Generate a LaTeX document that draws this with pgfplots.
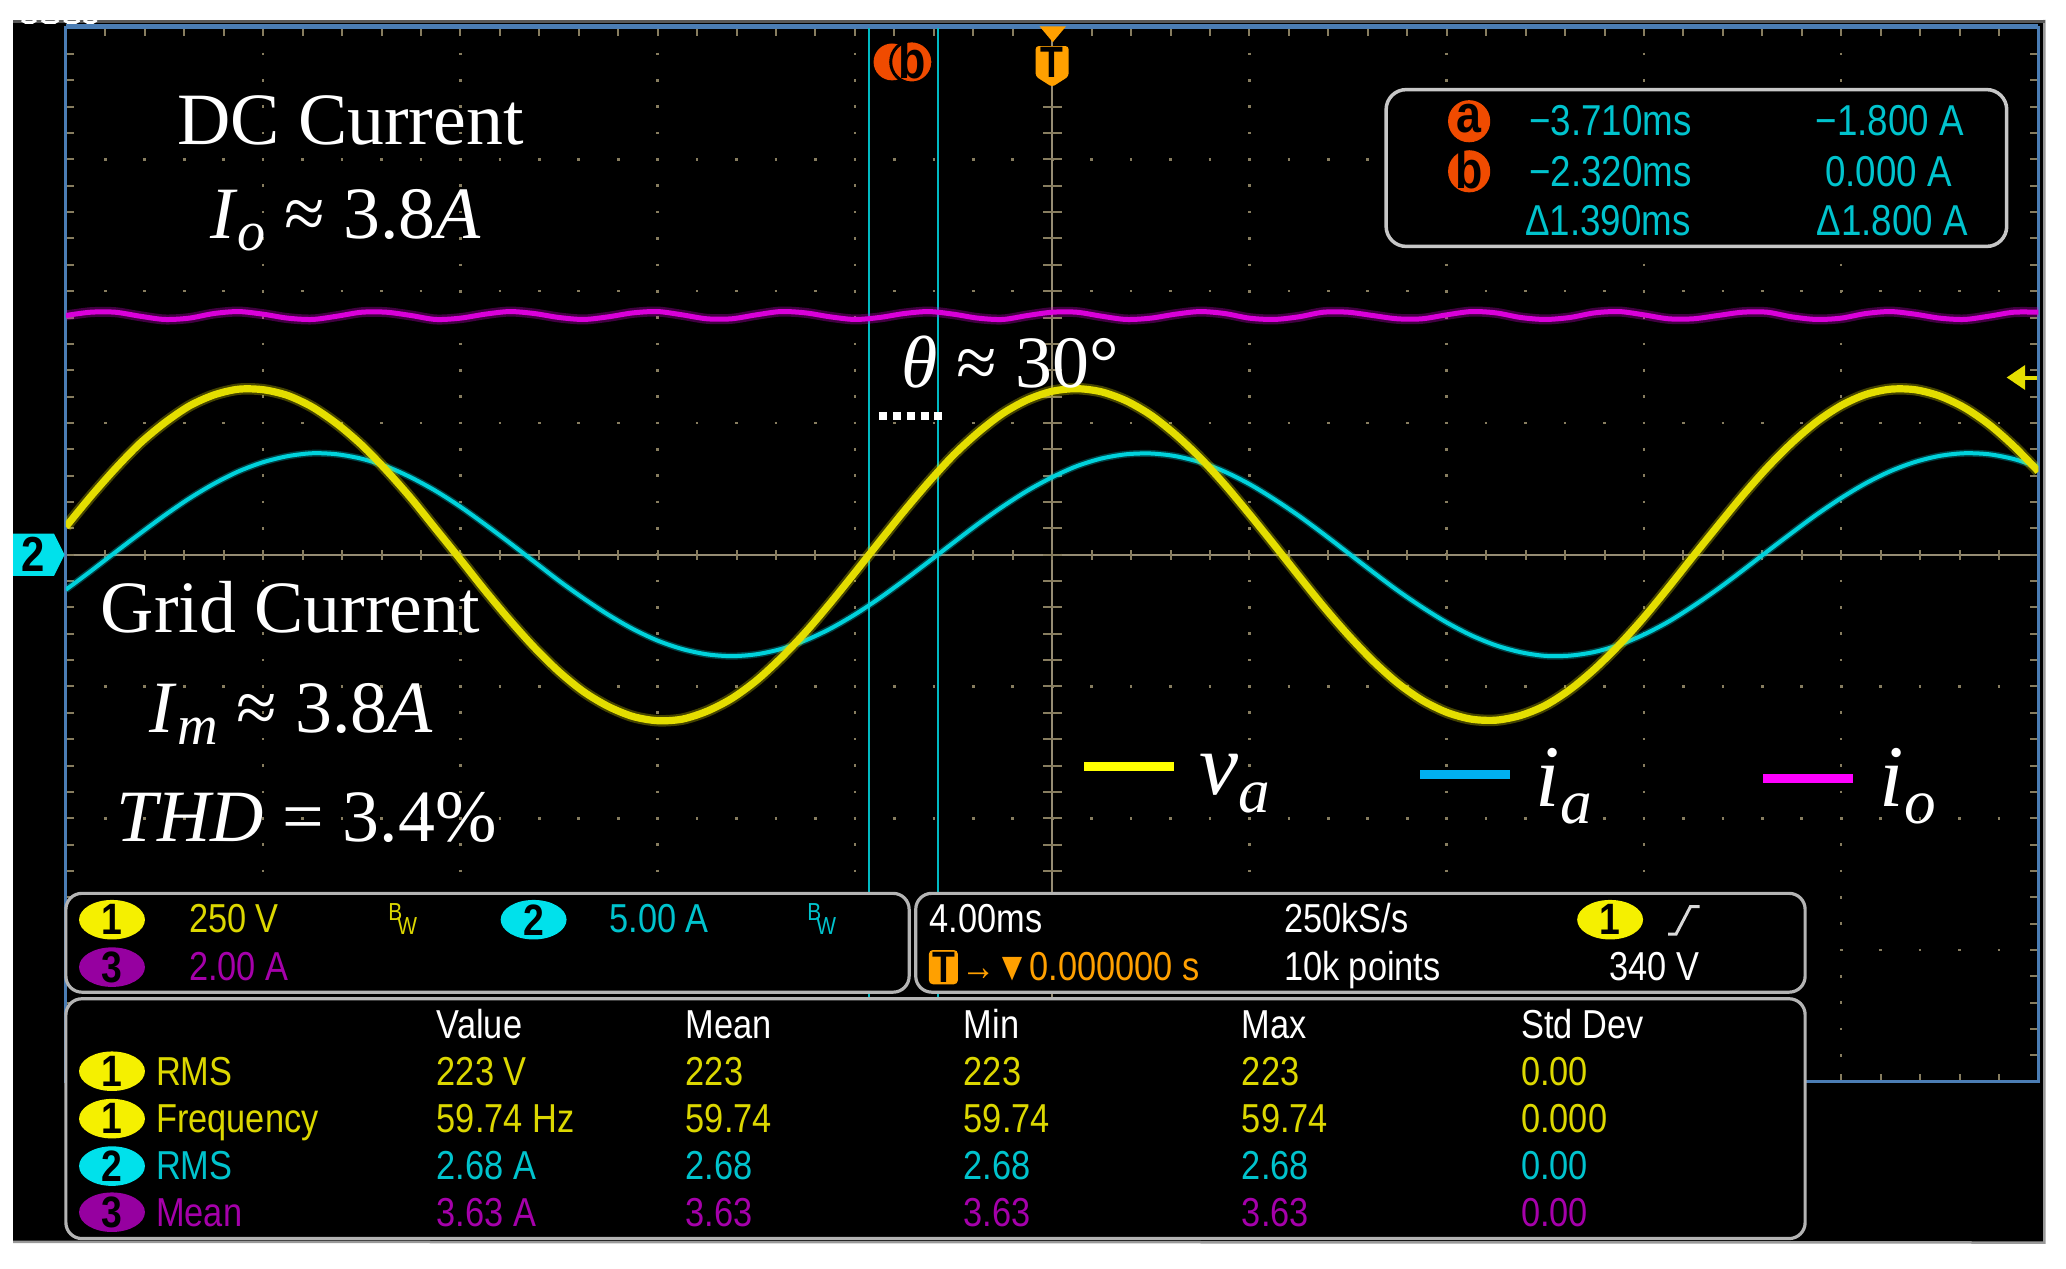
\documentclass[border=0pt]{standalone}
\usepackage{pgfplots}
\pgfplotsset{compat=1.18}
\usepackage{pgfplotstable}
\usepackage{fontspec}
\setmainfont{Liberation Serif}
\newfontfamily\tek[FakeStretch=0.85]{Liberation Sans}

\definecolor{tekY}{RGB}{228,222,0}
\definecolor{tekC}{RGB}{0,210,220}
\definecolor{tekM}{RGB}{218,0,218}
\definecolor{txtY}{RGB}{220,215,0}
\definecolor{txtC}{RGB}{0,195,205}
\definecolor{txtP}{RGB}{165,0,170}
\definecolor{ellY}{RGB}{245,240,0}
\definecolor{ellC}{RGB}{0,225,235}
\definecolor{ellP}{RGB}{150,0,160}
\definecolor{gridc}{RGB}{135,125,95}
\definecolor{centc}{RGB}{150,140,115}
\definecolor{bord}{RGB}{75,125,180}
\definecolor{panelb}{RGB}{180,180,180}
\definecolor{curO}{RGB}{240,75,0}
\definecolor{curC}{RGB}{0,185,195}
\definecolor{trigO}{RGB}{255,160,0}
\definecolor{legY}{RGB}{255,255,0}
\definecolor{legC}{RGB}{0,176,240}
\definecolor{legM}{RGB}{255,0,255}

% t (ms), va (V, ch1), ia (A, ch2), io (A, ch3)
\pgfplotstableread{
t va ia io
-20 53 -1.33 3.63
-19.5 110 -0.63 3.68
-19 163 0.09 3.68
-18.5 211 0.80 3.62
-18 250 1.49 3.57
-17.5 282 2.13 3.59
-17 303 2.69 3.66
-16.5 314 3.16 3.69
-16 313 3.51 3.65
-15.5 302 3.74 3.59
-15 280 3.85 3.57
-14.5 248 3.81 3.62
-14 208 3.64 3.68
-13.5 160 3.35 3.68
-13 107 2.93 3.63
-12.5 49 2.42 3.57
-12 -9 1.82 3.59
-11.5 -68 1.15 3.65
-11 -124 0.45 3.69
-10.5 -176 -0.27 3.66
-10 -222 -0.99 3.60
-9.5 -260 -1.66 3.57
-9 -288 -2.28 3.61
-8.5 -307 -2.82 3.67
-8 -315 -3.26 3.69
-7.5 -312 -3.58 3.64
-7 -297 -3.78 3.58
-6.5 -273 -3.85 3.58
-6 -239 -3.78 3.64
-5.5 -196 -3.58 3.69
-5 -147 -3.25 3.67
-4.5 -92 -2.81 3.61
-4 -34 -2.27 3.57
-3.5 25 -1.65 3.60
-3 83 -0.97 3.66
-2.5 138 -0.26 3.69
-2 189 0.46 3.65
-1.5 232 1.17 3.59
-1 268 1.83 3.57
-0.5 294 2.43 3.63
0 310 2.94 3.68
0.5 315 3.36 3.68
1 309 3.65 3.62
1.5 292 3.81 3.57
2 265 3.84 3.59
2.5 228 3.74 3.65
3 184 3.51 3.69
3.5 133 3.15 3.66
4 77 2.68 3.59
4.5 19 2.11 3.57
5 -40 1.48 3.61
5.5 -98 0.79 3.68
6 -152 0.07 3.68
6.5 -201 -0.65 3.63
7 -243 -1.35 3.58
7.5 -276 -1.99 3.58
8 -299 -2.57 3.64
8.5 -312 -3.06 3.69
9 -314 -3.44 3.67
9.5 -305 -3.70 3.60
10 -286 -3.84 3.57
10.5 -256 -3.83 3.60
11 -217 -3.69 3.67
11.5 -171 -3.42 3.69
12 -119 -3.03 3.64
12.5 -62 -2.54 3.58
13 -3 -1.95 3.58
13.5 55 -1.30 3.63
14 112 -0.60 3.68
14.5 165 0.12 3.68
15 212 0.83 3.61
15.5 252 1.52 3.57
16 283 2.15 3.59
16.5 304 2.71 3.66
17 314 3.17 3.69
17.5 313 3.52 3.65
18 301 3.75 3.59
18.5 279 3.85 3.57
19 247 3.81 3.62
19.5 206 3.63 3.68
20 158 3.33 3.68
}\scopedata

\tikzset{
  tk/.style={anchor=base west, inner sep=0, font=\tek\fontsize{11.5}{12}\selectfont},
  tkr/.style={anchor=base east, inner sep=0, font=\tek\fontsize{12.3}{13}\selectfont, txtC},
  tkl/.style={anchor=base west, inner sep=0, font=\tek\fontsize{12.3}{13}\selectfont, txtC},
  ann/.style={anchor=base west, inner sep=0, white, font=\fontsize{21}{24}\selectfont},
  leg/.style={anchor=base west, inner sep=0, white, font=\fontsize{25}{28}\selectfont},
  chipnum/.style={inner sep=0, black, font=\tek\bfseries\fontsize{12.5}{13}\selectfont}
}
\newcommand\chip[4]{\fill[#3] (#1,#2) ellipse [x radius=25, y radius=15];
  \node[chipnum] at (#1,#2) {#4};}

\pgfplotsset{tekaxis/.style={at={(gridSW)}, anchor=south west, width=197.24mm, height=105.41mm,
  scale only axis, xmin=-20, xmax=20, hide axis, clip=true}}

\begin{document}
\begin{tikzpicture}[x=0.13176mm, y=-0.13176mm]
% background
\fill[white] (0,0) rectangle (1568,963);
\fill[black] (10,15) rectangle (1552,943);
\draw[black!40, line width=0.25mm] (1551.5,15) -- (1551.5,943) -- (10,942.5);
\draw[black!65, line width=0.35mm] (10,16.5) -- (1552,16.5);
\foreach \a/\b in {17/27,32/44,49/60,64/73}
  \draw[white, line width=0.3mm, rounded corners=0.2mm] (\a,15.2) -- (\a+1,17) -- (\b-1,17) -- (\b,15.2);
% graticule: dotted major lines
\foreach \i in {1,2,3,4,6,7,8,9}
  \draw[gridc, line width=0.26mm, dash pattern=on 0.264mm off 2.371mm] ({50+149.7*\i},20) -- ({50+149.7*\i},822);
\foreach \j in {1,2,3,5,6,7}
  \draw[gridc, line width=0.26mm, dash pattern=on 0.264mm off 3.681mm] (49,{21+100*\j}) -- (1548,{21+100*\j});
% centre lines and their ticks
\draw[centc, line width=0.22mm] (798.5,21) -- (798.5,821);
\draw[centc, line width=0.22mm] (50,421) -- (1547,421);
\draw[gridc, line width=1.0mm, dash pattern=on 0.2mm off 3.745mm] (49.25,421) -- (1548,421);
\draw[gridc, line width=1.9mm, dash pattern=on 0.2mm off 2.435mm] (798.5,20.25) -- (798.5,822);
% border ticks
\draw[gridc, line width=0.8mm, dash pattern=on 0.2mm off 3.745mm] (49.25,24) -- (1548,24);
\draw[gridc, line width=0.8mm, dash pattern=on 0.2mm off 3.745mm] (49.25,818) -- (1548,818);
\draw[gridc, line width=0.8mm, dash pattern=on 0.2mm off 2.435mm] (53,20.25) -- (53,822);
\draw[gridc, line width=0.8mm, dash pattern=on 0.2mm off 2.435mm] (1544,20.25) -- (1544,822);
\draw[bord, line width=0.28mm] (50,21) rectangle (1547,821);
\draw[bord, line width=0.5mm] (50,20) -- (1547,20);

\coordinate (gridSW) at (50,821);
% channel 3 (2 A/div) + cursors
\begin{axis}[tekaxis, ymin=-8, ymax=8]
  \draw[curC, line width=0.22mm] (axis cs:-3.71,-8) -- (axis cs:-3.71,8);
  \draw[curC, line width=0.22mm] (axis cs:-2.32,-8) -- (axis cs:-2.32,8);
  \addplot[tekM, line width=1.0mm, opacity=0.3, smooth] table[x=t, y=io] {\scopedata};
  \addplot[tekM, line width=0.5mm, smooth] table[x=t, y=io] {\scopedata};
\end{axis}
% channel 2 (5 A/div)
\begin{axis}[tekaxis, ymin=-20, ymax=20]
  \addplot[tekC, line width=0.7mm, opacity=0.3, smooth] table[x=t, y=ia] {\scopedata};
  \addplot[tekC, line width=0.4mm, smooth] table[x=t, y=ia] {\scopedata};
\end{axis}
% channel 1 (250 V/div)
\begin{axis}[tekaxis, ymin=-1000, ymax=1000]
  \addplot[tekY, line width=1.15mm, opacity=0.3, smooth] table[x=t, y=va] {\scopedata};
  \addplot[tekY, line width=0.72mm, smooth] table[x=t, y=va] {\scopedata};
\end{axis}

% annotations
\node[ann] at (134,110) {DC Current};
\node[ann] at (159,181) {\textit{I}\raisebox{-3.5pt}{\fontsize{16}{16}\selectfont\itshape o} ≈ 3.8\textit{A}};
\node[ann] at (684,294) {\textit{θ} ≈ 30°};
\draw[white, line width=0.8mm, dash pattern=on 0.8mm off 0.59mm] (667,316) -- (719,316);
\node[ann] at (76,480) {Grid Current};
\node[ann] at (113,556) {\textit{I}\raisebox{-3.5pt}{\fontsize{16}{16}\selectfont\itshape m} ≈ 3.8\textit{A}};
\node[ann] at (88,639) {\textit{THD} = 3.4\%};
% legend
\draw[legY, line width=0.92mm] (823,581.5) -- (891,581.5);
\node[leg] at (910,603) {\textit{v}\raisebox{-5pt}{\fontsize{18}{18}\selectfont\itshape a}};
\draw[legC, line width=0.92mm] (1078,588) -- (1146,588);
\node[leg] at (1165,612) {\textit{i}\raisebox{-5pt}{\fontsize{18}{18}\selectfont\itshape a}};
\draw[legM, line width=0.92mm] (1338,591) -- (1406,591);
\node[leg] at (1426,612) {\textit{i}\raisebox{-5pt}{\fontsize{18}{18}\selectfont\itshape o}};

% panels
\draw[panelb, line width=0.32mm, fill=black, rounded corners=1.6mm] (50,678) rectangle (690,753);
\draw[panelb, line width=0.32mm, fill=black, rounded corners=1.6mm] (695,678) rectangle (1370,753);
\draw[panelb, line width=0.32mm, fill=black, rounded corners=1.6mm] (50,758) rectangle (1370,940);
% channel panel
\chip{85}{698}{ellY}{1}
\node[tk, txtY] at (143,708) {250 V};
\node[inner sep=0, txtY, font=\tek\fontsize{7}{7}\selectfont] at (300,692) {B};
\node[inner sep=0, txtY, font=\tek\fontsize{7}{7}\selectfont] at (309,703) {W};
\chip{405}{698}{ellC}{2}
\node[tk, txtC] at (462,708) {5.00 A};
\node[inner sep=0, txtC, font=\tek\fontsize{7}{7}\selectfont] at (618,692) {B};
\node[inner sep=0, txtC, font=\tek\fontsize{7}{7}\selectfont] at (627,703) {W};
\chip{85}{734}{ellP}{3}
\node[tk, txtP] at (143,744) {2.00 A};
% timebase panel
\node[tk, white] at (705,708) {4.00ms};
\node[tk, white] at (974,708) {250kS/s};
\chip{1222}{698}{ellY}{1}
\draw[black!15, line width=0.3mm] (1266,709) -- (1272,709) -- (1283,688) -- (1290,688);
\fill[trigO, rounded corners=0.4mm] (705,721) rectangle (727,747);
\node[chipnum] at (716,734) {T};
\node[tk, trigO] at (729,744) {→▼0.000000 s};
\node[tk, white] at (974,744) {10k points};
\node[tk, white] at (1221,744) {340 V};
% measurement panel
\node[tk, white] at (331,788) {Value};
\node[tk, white] at (520,788) {Mean};
\node[tk, white] at (731,788) {Min};
\node[tk, white] at (942,788) {Max};
\node[tk, white] at (1154,788) {Std Dev};
\chip{85}{813}{ellY}{1}
\node[tk, txtY] at (118,824) {RMS};
\node[tk, txtY] at (331,824) {223 V};
\node[tk, txtY] at (520,824) {223};
\node[tk, txtY] at (731,824) {223};
\node[tk, txtY] at (942,824) {223};
\node[tk, txtY] at (1154,824) {0.00};
\chip{85}{849}{ellY}{1}
\node[tk, txtY] at (118,859.5) {Frequency};
\node[tk, txtY] at (331,859.5) {59.74 Hz};
\node[tk, txtY] at (520,859.5) {59.74};
\node[tk, txtY] at (731,859.5) {59.74};
\node[tk, txtY] at (942,859.5) {59.74};
\node[tk, txtY] at (1154,859.5) {0.000};
\chip{85}{885}{ellC}{2}
\node[tk, txtC] at (118,895.5) {RMS};
\node[tk, txtC] at (331,895.5) {2.68 A};
\node[tk, txtC] at (520,895.5) {2.68};
\node[tk, txtC] at (731,895.5) {2.68};
\node[tk, txtC] at (942,895.5) {2.68};
\node[tk, txtC] at (1154,895.5) {0.00};
\chip{85}{920}{ellP}{3}
\node[tk, txtP] at (118,931) {Mean};
\node[tk, txtP] at (331,931) {3.63 A};
\node[tk, txtP] at (520,931) {3.63};
\node[tk, txtP] at (731,931) {3.63};
\node[tk, txtP] at (942,931) {3.63};
\node[tk, txtP] at (1154,931) {0.00};

% cursor readout
\draw[black!22!white, line width=0.35mm, fill=black, rounded corners=2mm] (1052,68) rectangle (1523,187);
\fill[curO] (1115,92) circle [radius=16];
\node[inner sep=0, black, font=\tek\bfseries\fontsize{15}{15}\selectfont] at (1115,90) {a};
\fill[curO] (1115,130) circle [radius=16];
\node[inner sep=0, black, font=\tek\bfseries\fontsize{15}{15}\selectfont] at (1115,129) {b};
\node[tkl] at (1160,102.5) {−3.710ms};
\node[tkr] at (1491,102.5) {−1.800 A};
\node[tkl] at (1160,141.5) {−2.320ms};
\node[tkr] at (1482,141.5) {0.000 A};
\node[tkl] at (1157,178.5) {Δ1.390ms};
\node[tkr] at (1494,178.5) {Δ1.800 A};

% markers
\fill[trigO] (789,20) -- (809,20) -- (799,32) -- cycle;
\fill[trigO, rounded corners=0.3mm] (786,35) -- (811,35) -- (811,58) -- (798.5,66) -- (786,58) -- cycle;
\node[chipnum] at (798.5,47) {T};
\fill[curO] (677,47) circle [radius=14];
\draw[black, line width=0.3mm, fill=curO] (692,47) circle [radius=16];
\node[inner sep=0, black, font=\tek\bfseries\fontsize{15}{15}\selectfont] at (692,45) {b};
\fill[ellC] (10,405) -- (41,405) -- (49,421) -- (41,437) -- (10,437) -- cycle;
\node[inner sep=0, black, font=\tek\bfseries\fontsize{14}{14}\selectfont] at (25,421) {2};
\fill[tekY] (1523,286.5) -- (1537,277) -- (1537,296) -- cycle;
\draw[tekY, line width=0.4mm] (1535,286.5) -- (1546,286.5);
\end{tikzpicture}
\end{document}
